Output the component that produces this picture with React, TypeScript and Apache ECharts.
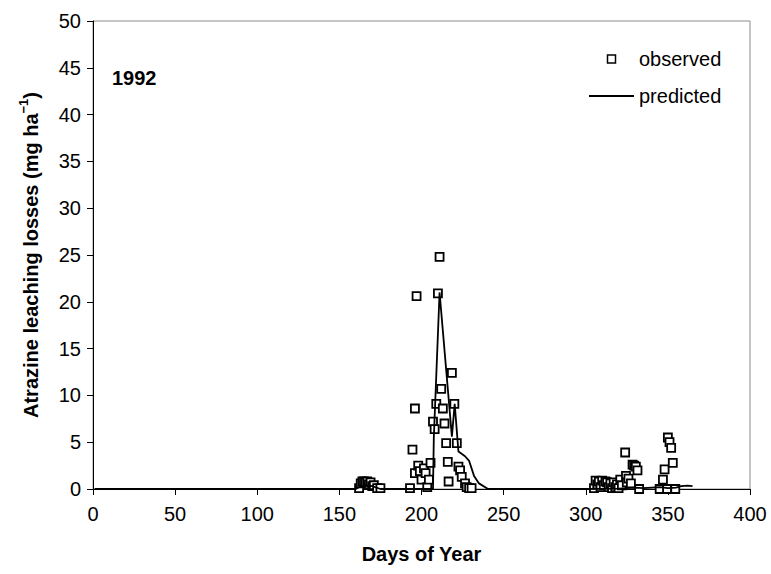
import React, { useEffect, useRef } from "react";
import * as echarts from "echarts";

const xTicks = { min: 0, max: 400, interval: 50 };
const yTicks = { min: 0, max: 50, interval: 5 };

const obsDays = [
  162, 163, 164, 165, 166, 167, 168, 169, 170, 171, 173, 175,
  193, 194.5, 196, 197, 196, 198, 199, 200, 201.5, 202.5, 203.5, 204.5, 205.5, 207, 208, 209, 210, 211, 212, 213, 214, 215, 216, 216.5, 218.5, 220, 221.5, 222.5, 223.5, 224.5, 226.5, 227.5, 229, 230.5,
  305, 306, 307, 308, 309, 310, 311, 312, 313, 314, 315, 316, 317, 318, 319, 320, 321, 322, 324, 324.5, 325, 326, 327.5, 328.5, 329.5, 330.5, 331.5, 332.5, 345, 347, 348, 349.5, 350, 351, 352, 353, 354.5,
];
const obsValues = [
  0.1, 0.6, 0.8, 0.8, 0.7, 0.8, 0.5, 0.7, 0.3, 0.4, 0.1, 0.1,
  0.1, 4.2, 8.6, 20.6, 1.7, 2.5, 1.9, 1.0, 2.2, 1.7, 0.2, 1.0, 2.8, 7.2, 6.4, 9.1, 20.9, 24.8, 10.7, 8.6, 7.0, 4.9, 2.9, 0.8, 12.4, 9.1, 4.9, 2.4, 2.0, 1.3, 0.6, 0.2, 0.1, 0.1,
  0.1, 0.9, 0.5, 0.8, 0.2, 0.9, 0.4, 0.8, 0.7, 0.2, 0.6, 0.1, 0.7, 0.2, 0.5, 0.1, 1.0, 0.4, 3.9, 1.4, 0.7, 1.1, 0.6, 2.6, 2.5, 2.4, 2.0, 0.0, 0.0, 1.0, 2.1, 0.0, 5.5, 5.0, 4.4, 2.8, 0.0,
];

const predDays = [
  1, 160, 163, 166, 170, 175, 190, 207, 207.5, 211, 218.5, 220.2, 222.5, 226.5, 229, 232, 235, 240.5,
  300, 320, 325, 330, 335, 340, 345, 350, 355, 358, 362, 365,
];
const predValues = [
  0, 0, 0.3, 0.4, 0.3, 0, 0, 0, 5.5, 21.0, 5.6, 9.1, 4.0, 3.5, 3.0, 1.4, 0.6, 0,
  0, 0.05, 0.1, 0.15, 0.1, 0.15, 0.2, 0.1, 0.15, 0.3, 0.35, 0.3,
];

const FONT = "'Liberation Sans', Arial, sans-serif";

export default function App() {
  const ref = useRef<HTMLDivElement>(null);
  useEffect(() => {
    document.body.style.margin = "0";
    const chart = echarts.init(ref.current!, undefined, { renderer: "svg" });
    const obs = obsDays.map((d, i) => [d, obsValues[i]]);
    const pred = predDays.map((d, i) => [d, predValues[i]]);
    chart.setOption({
      animation: false,
      textStyle: { fontFamily: FONT, color: "#000" },
      grid: {
        left: 93,
        right: 21,
        top: 21,
        bottom: 85,
        show: true,
        borderColor: "#8c8c8c",
        borderWidth: 1,
        backgroundColor: "transparent",
      },
      legend: {
        orient: "vertical",
        left: 584,
        top: 44,
        itemWidth: 45,
        itemHeight: 8,
        itemGap: 17,
        symbolKeepAspect: true,
        textStyle: { fontFamily: FONT, fontSize: 20, color: "#000" },
        data: [
          { name: "observed", icon: "path://M0,0H8V8H0Z", itemStyle: { color: "#fff", borderColor: "#000", borderWidth: 1.5 } },
          { name: "predicted", icon: "path://M0,0H45V2H0Z", itemStyle: { color: "#000", borderWidth: 0 } },
        ],
      },
      xAxis: {
        type: "value",
        min: xTicks.min,
        max: xTicks.max,
        interval: xTicks.interval,
        name: "Days of Year",
        nameLocation: "middle",
        nameGap: 55,
        nameTextStyle: { fontFamily: FONT, fontSize: 20, fontWeight: "bold", color: "#000" },
        axisLine: { show: true, onZero: false, lineStyle: { color: "#000", width: 1 } },
        axisTick: { show: true, inside: false, length: 6, lineStyle: { color: "#000" } },
        axisLabel: { fontFamily: FONT, fontSize: 20, color: "#000", margin: 15 },
        splitLine: { show: false },
      },
      yAxis: {
        type: "value",
        min: yTicks.min,
        max: yTicks.max,
        interval: yTicks.interval,
        name: "Atrazine leaching losses (mg ha{sup|−1})",
        nameLocation: "middle",
        nameGap: 48,
        nameTextStyle: {
          fontFamily: FONT,
          fontSize: 20,
          fontWeight: "bold",
          color: "#000",
          lineHeight: 28,
          rich: {
            sup: { fontFamily: FONT, fontSize: 13, fontWeight: "bold", color: "#000", verticalAlign: "top", lineHeight: 28 },
          },
        },
        axisLine: { show: true, lineStyle: { color: "#000", width: 1 } },
        axisTick: { show: true, inside: false, length: 6, lineStyle: { color: "#000" } },
        axisLabel: { fontFamily: FONT, fontSize: 20, color: "#000", margin: 12 },
        splitLine: { show: false },
      },
      graphic: [
        {
          type: "text",
          left: 112,
          top: 68,
          style: { text: "1992", fontFamily: FONT, fontSize: 20, fontWeight: "bold", fill: "#000" },
        },
      ],
      series: [
        {
          name: "observed",
          type: "scatter",
          data: obs,
          symbol: "rect",
          symbolSize: 8,
          itemStyle: { color: "#fff", borderColor: "#000", borderWidth: 1.8, opacity: 1 },
          z: 2,
        },
        {
          name: "predicted",
          type: "line",
          data: pred,
          symbol: "none",
          showSymbol: false,
          color: "#000",
          lineStyle: { color: "#000", width: 1.8 },
          z: 3,
        },
      ],
    });
    return () => chart.dispose();
  }, []);
  return <div ref={ref} style={{ width: 771, height: 574 }} />;
}
